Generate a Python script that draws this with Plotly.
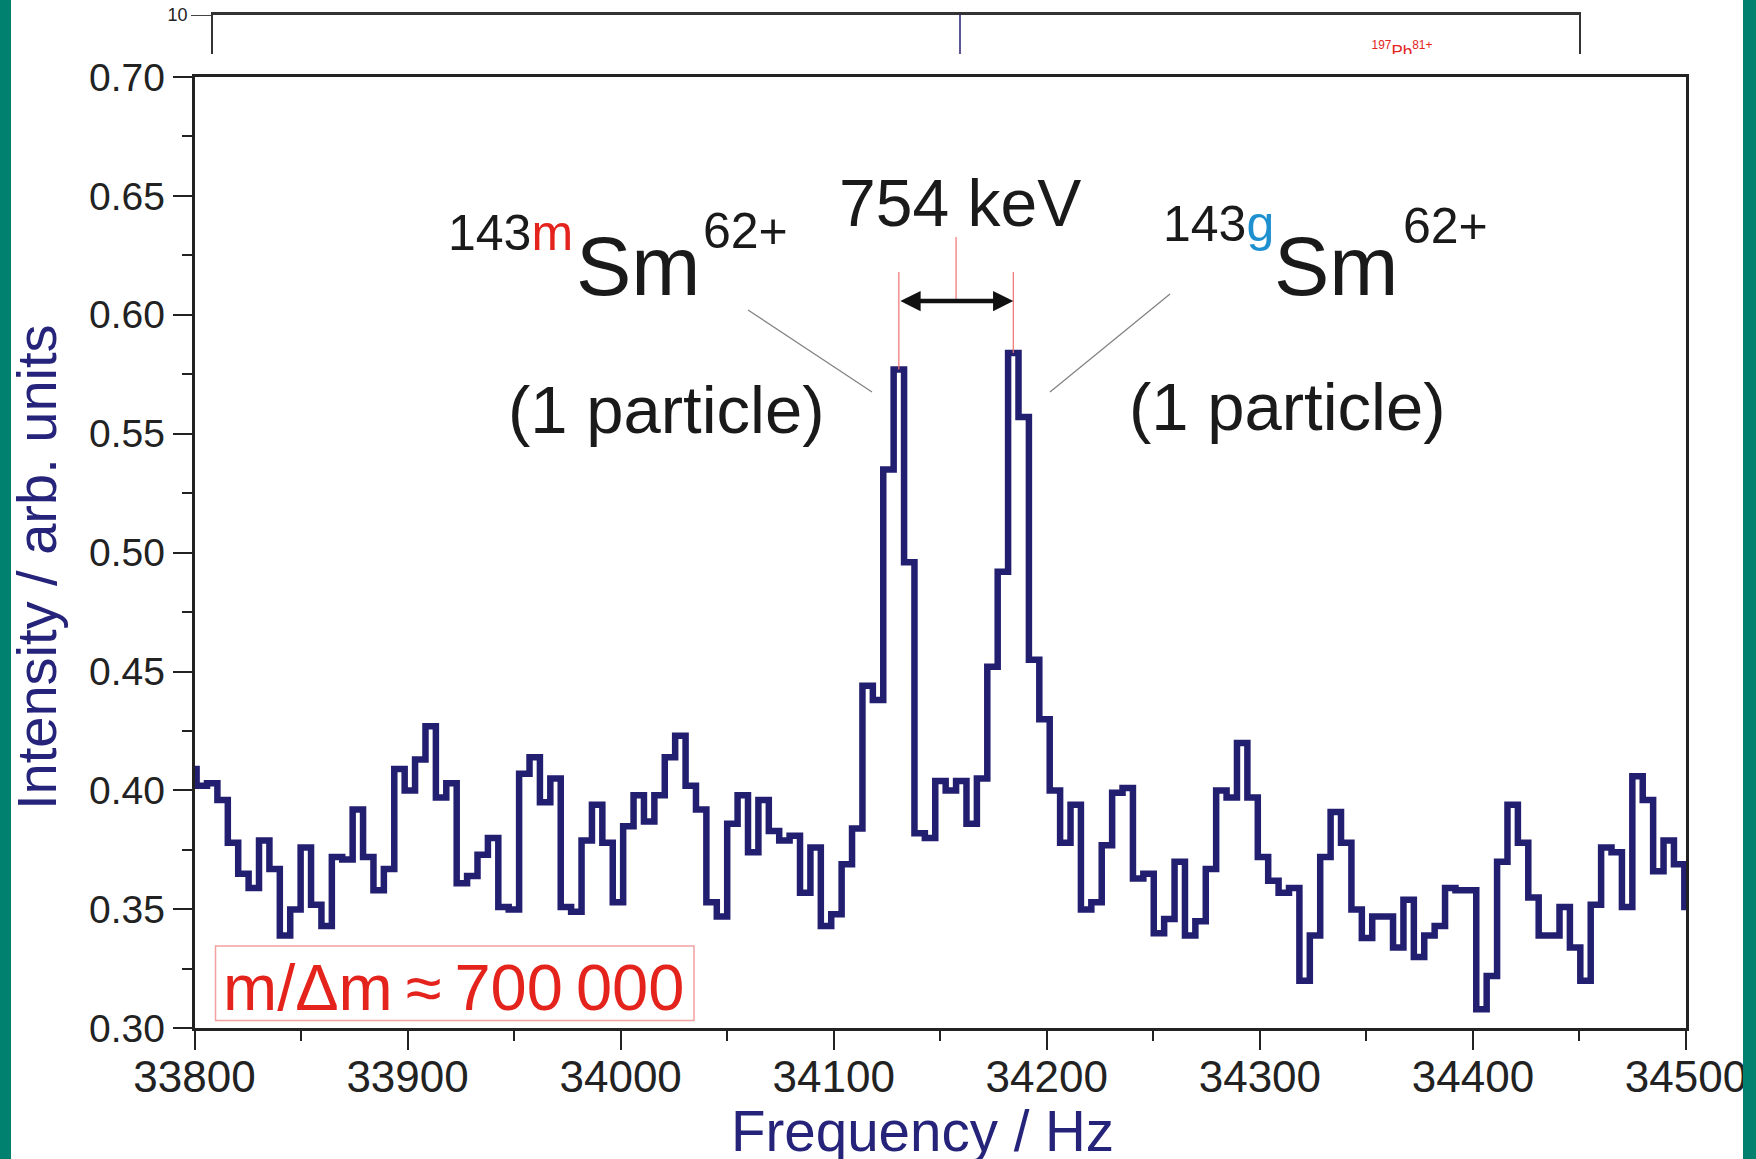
import plotly.graph_objects as go

W, H = 1756, 1159

# ---------------- data ----------------
freq_first_edge = 33796.1      # left edge of first (partially visible) bin, Hz
bin_width = 4.8828             # Hz per bin
intensity = [
    0.409, 0.402, 0.403, 0.396, 0.378, 0.365, 0.359, 0.379, 0.367, 0.339,
    0.350, 0.376, 0.352, 0.343, 0.372, 0.371, 0.392, 0.372, 0.358, 0.367,
    0.409, 0.400, 0.413, 0.427, 0.397, 0.403, 0.361, 0.364, 0.373, 0.380,
    0.351, 0.350, 0.407, 0.414, 0.395, 0.405, 0.351, 0.349, 0.379, 0.394,
    0.378, 0.353, 0.385, 0.398, 0.387, 0.398, 0.414, 0.423, 0.402, 0.392,
    0.353, 0.347, 0.386, 0.398, 0.374, 0.396, 0.383, 0.379, 0.381, 0.357,
    0.376, 0.343, 0.348, 0.369, 0.384, 0.444, 0.438, 0.535, 0.577, 0.496,
    0.382, 0.380, 0.404, 0.400, 0.404, 0.386, 0.405, 0.452, 0.492, 0.584,
    0.557, 0.455, 0.430, 0.400, 0.378, 0.394, 0.350, 0.353, 0.377, 0.399,
    0.401, 0.363, 0.365, 0.340, 0.346, 0.370, 0.339, 0.345, 0.367, 0.400,
    0.397, 0.420, 0.397, 0.372, 0.362, 0.357, 0.359, 0.320, 0.339, 0.372,
    0.391, 0.378, 0.350, 0.338, 0.347, 0.347, 0.334, 0.354, 0.330, 0.339,
    0.343, 0.359, 0.358, 0.358, 0.308, 0.322, 0.370, 0.394, 0.378, 0.355,
    0.339, 0.339, 0.351, 0.334, 0.320, 0.352, 0.376, 0.374, 0.351, 0.406,
    0.396, 0.366, 0.379, 0.369, 0.351,
]
x_range = [33800, 34500]
y_range = [0.30, 0.70]
x_ticks = [33800, 33900, 34000, 34100, 34200, 34300, 34400, 34500]
y_ticks = [0.30, 0.35, 0.40, 0.45, 0.50, 0.55, 0.60, 0.65, 0.70]

# ---------------- layout geometry (pixels) ----------------
PL, PR, PT, PB = 194.5, 1686.0, 77.0, 1028.3


def px(p):
    return p / W


def py(p):
    return 1 - p / H


def val_at(p):  # pixel row -> data value
    return y_range[0] + (PB - p) / (PB - PT) * (y_range[1] - y_range[0])


LINE = "#231f70"
NAVY = "#25237a"
RED = "#e3231c"
BLUE = "#1e90d0"
TEAL = "#00806e"
FONT = "Liberation Sans, Arial, sans-serif"

edges = [freq_first_edge + k * bin_width for k in range(len(intensity) + 1)]
xs = edges
ys = intensity + [intensity[-1]]

fig = go.Figure()
fig.add_trace(go.Scatter(
    x=xs, y=ys, mode="lines", line=dict(color=LINE, width=6.5, shape="hv"),
    hoverinfo="skip", showlegend=False, xaxis="x", yaxis="y",
))

# peak positions from data
half = 75
i1 = max(range(half), key=lambda i: intensity[i])
i2 = max(range(half, len(intensity)), key=lambda i: intensity[i])
f1 = freq_first_edge + (i1 + 0.5) * bin_width
f2 = freq_first_edge + (i2 + 0.5) * bin_width
fmid = (f1 + f2) / 2

# top strip of a neighbouring chart (cut off)
fig.add_trace(go.Scatter(
    x=[(1402 - 213) / (1579 - 213)], y=[0.26], mode="text",
    text=["<sup>197</sup>Pb<sup>81+</sup>"], textposition="bottom center",
    textfont=dict(color=RED, size=17, family=FONT), cliponaxis=True,
    hoverinfo="skip", showlegend=False, xaxis="x2", yaxis="y2",
))

shapes = []
# red marker lines
ytop = val_at(272)
shapes.append(dict(type="line", xref="x", yref="y", x0=f1, x1=f1, y0=intensity[i1], y1=ytop,
                   line=dict(color="#f07070", width=1.2)))
shapes.append(dict(type="line", xref="x", yref="y", x0=f2, x1=f2, y0=intensity[i2], y1=ytop,
                   line=dict(color="#f07070", width=1.2)))
shapes.append(dict(type="line", xref="x", yref="y", x0=fmid, x1=fmid, y0=val_at(301), y1=val_at(237),
                   line=dict(color="#f07070", width=1.2)))
# leader lines
shapes.append(dict(type="line", xref="paper", yref="paper", x0=px(748), y0=py(310), x1=px(872), y1=py(392),
                   line=dict(color="#808080", width=1.2)))
shapes.append(dict(type="line", xref="paper", yref="paper", x0=px(1170), y0=py(294), x1=px(1050), y1=py(392),
                   line=dict(color="#808080", width=1.2)))
# resolution box
shapes.append(dict(type="rect", xref="paper", yref="paper", x0=px(215.5), x1=px(694), y0=py(1020.5), y1=py(946),
                   line=dict(color="#f2a0a0", width=1.5), fillcolor="rgba(0,0,0,0)"))
# top strip middle line
shapes.append(dict(type="line", xref="paper", yref="paper", x0=px(960), x1=px(960), y0=py(54), y1=py(15),
                   line=dict(color=LINE, width=1.5)))
# teal side bars
shapes.append(dict(type="rect", xref="paper", yref="paper", x0=0, x1=px(11), y0=0, y1=1,
                   fillcolor=TEAL, line=dict(width=0), layer="above"))
shapes.append(dict(type="rect", xref="paper", yref="paper", x0=px(1743), x1=1, y0=0, y1=1,
                   fillcolor=TEAL, line=dict(width=0), layer="above"))

ann = []


def text(x, y, s, size, color="#1a1a1a", xanchor="left", angle=0):
    ann.append(dict(xref="paper", yref="paper", x=px(x), y=py(y), text=s, showarrow=False,
                    xanchor=xanchor, yanchor="middle", textangle=angle,
                    font=dict(family=FONT, size=size, color=color)))


text(960, 203, "754 keV", 66, xanchor="center")
text(446, 233, "143<span style='color:%s'>m</span>" % RED, 50)
text(574, 266, "Sm", 83)
text(701, 231, "62+", 50)
text(1161, 224, "143<span style='color:%s'>g</span>" % BLUE, 50)
text(1272, 266, "Sm", 83)
text(1401, 226, "62+", 50)
text(666, 410, "(1 particle)", 67, xanchor="center")
text(1287, 407, "(1 particle)", 67, xanchor="center")
text(453, 988, "m/\u0394m\u2009\u2248\u2009700\u2009000", 65, color=RED, xanchor="center")
text(923, 1131, "Frequency / Hz", 56.5, color=NAVY, xanchor="center")
ann.append(dict(xref="paper", yref="paper", x=px(36), y=py(567), text="Intensity / arb. units",
                showarrow=False, xanchor="center", yanchor="middle", textangle=-90,
                font=dict(family=FONT, size=56, color=NAVY)))
# double arrow between the peaks
yarr = val_at(301)
ann.append(dict(xref="x", yref="y", axref="x", ayref="y", x=f2, y=yarr, ax=f1, ay=yarr,
                text="", showarrow=True, arrowside="end+start", arrowhead=2, arrowsize=0.9,
                arrowwidth=4.5, arrowcolor="#111111", standoff=0, startstandoff=0))

fig.update_layout(
    width=W, height=H, margin=dict(l=0, r=0, t=0, b=0, autoexpand=False),
    paper_bgcolor="white", plot_bgcolor="white", showlegend=False,
    shapes=shapes, annotations=ann,
    xaxis=dict(domain=[px(PL), px(PR)], range=x_range, tickvals=x_ticks, tickformat="d",
               ticks="outside", ticklen=19, tickwidth=2, tickcolor="#222",
               minor=dict(dtick=50, ticks="outside", ticklen=10, tickwidth=2, tickcolor="#222"),
               showline=True, linecolor="#222", linewidth=2.5, mirror=True, automargin=False,
               showgrid=False, zeroline=False, ticklabelstandoff=-11,
               tickfont=dict(family=FONT, size=44, color="#222"), anchor="y"),
    yaxis=dict(domain=[py(PB), py(PT)], range=y_range, tickvals=y_ticks, tickformat=".2f",
               ticks="outside", ticklen=19, tickwidth=2, tickcolor="#222",
               minor=dict(dtick=0.025, ticks="outside", ticklen=10, tickwidth=2, tickcolor="#222"),
               showline=True, linecolor="#222", linewidth=2.5, mirror=True, automargin=False,
               showgrid=False, zeroline=False, ticklabelstandoff=0,
               tickfont=dict(family=FONT, size=39, color="#222"), anchor="x"),
    xaxis2=dict(domain=[px(213), px(1579)], range=[0, 1], anchor="y2", side="top",
                showline=True, linecolor="#333", linewidth=2.5, showticklabels=False,
                ticks="", showgrid=False, zeroline=False, automargin=False),
    yaxis2=dict(domain=[py(54), py(15)], range=[0, 1], anchor="x2", automargin=False,
                showline=True, mirror=True, linecolor="#333", linewidth=1.5,
                tickvals=[1], ticktext=["10"], ticks="outside", ticklen=20, tickwidth=1,
                tickfont=dict(family=FONT, size=18, color="#222"),
                showgrid=False, zeroline=False),
)

fig.write_html(
    "out.html",
    config={"displayModeBar": False},
    post_script=(
        "document.documentElement.style.margin='0';document.body.style.margin='0';"
        "document.body.style.padding='0';document.documentElement.style.overflow='hidden';"
        "document.body.style.overflow='hidden';"
    ),
)
